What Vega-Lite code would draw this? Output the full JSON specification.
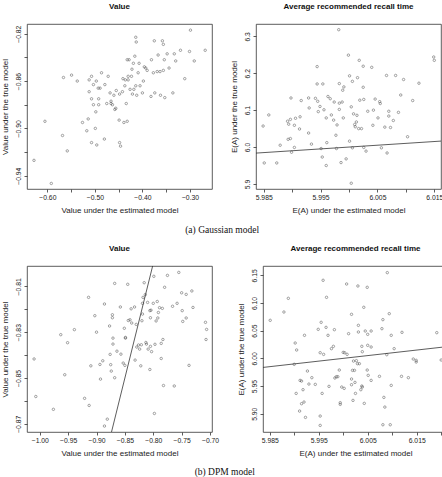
{
  "$schema": "https://vega.github.io/schema/vega-lite/v6.json",
  "padding": {"left": 1, "top": 2, "right": 0, "bottom": 0},
  "background": "white",
  "config": {
    "font": "Liberation Sans",
    "view": {"stroke": "#333", "strokeWidth": 0.8},
    "axis": {"grid": false, "domain": false, "tickColor": "#333", "tickSize": 3, "tickWidth": 0.8, "labelFontSize": 6.8, "titleFontSize": 8, "titleFontWeight": "normal", "labelColor": "#222", "titleColor": "#222", "labelOverlap": false, "labelFlush": false},
    "axisY": {"labelAngle": -90, "labelAlign": "center", "labelBaseline": "bottom", "labelPadding": 2.5, "titlePadding": 6},
    "axisX": {"labelPadding": 2.5, "titlePadding": 5},
    "title": {"fontSize": 8, "fontWeight": "bold", "offset": 13, "color": "#111"},
    "point": {"filled": false, "size": 6, "stroke": "#444", "strokeWidth": 0.7}
  },
  "datasets": {
    "g_value": [
      {"est": -0.628, "tru": -0.927}, {"est": -0.5916, "tru": -0.9465}, {"est": -0.605, "tru": -0.894}, {"est": -0.568, "tru": -0.906}, {"est": -0.558, "tru": -0.919},
      {"est": -0.566, "tru": -0.857}, {"est": -0.549, "tru": -0.855}, {"est": -0.537, "tru": -0.860}, {"est": -0.526, "tru": -0.895}, {"est": -0.517, "tru": -0.902},
      {"est": -0.514, "tru": -0.892}, {"est": -0.512, "tru": -0.869}, {"est": -0.512, "tru": -0.859}, {"est": -0.507, "tru": -0.856}, {"est": -0.507, "tru": -0.875},
      {"est": -0.503, "tru": -0.863}, {"est": -0.503, "tru": -0.880}, {"est": -0.507, "tru": -0.912}, {"est": -0.499, "tru": -0.900}, {"est": -0.498, "tru": -0.886},
      {"est": -0.497, "tru": -0.860}, {"est": -0.496, "tru": -0.914}, {"est": -0.493, "tru": -0.866}, {"est": -0.492, "tru": -0.875}, {"est": -0.492, "tru": -0.880},
      {"est": -0.489, "tru": -0.866}, {"est": -0.486, "tru": -0.853}, {"est": -0.480, "tru": -0.909}, {"est": -0.479, "tru": -0.863}, {"est": -0.475, "tru": -0.879},
      {"est": -0.472, "tru": -0.856}, {"est": -0.468, "tru": -0.870}, {"est": -0.466, "tru": -0.877}, {"est": -0.466, "tru": -0.879}, {"est": -0.463, "tru": -0.880},
      {"est": -0.460, "tru": -0.872}, {"est": -0.458, "tru": -0.884}, {"est": -0.456, "tru": -0.883}, {"est": -0.455, "tru": -0.868}, {"est": -0.449, "tru": -0.893},
      {"est": -0.448, "tru": -0.871}, {"est": -0.448, "tru": -0.912}, {"est": -0.446, "tru": -0.915}, {"est": -0.442, "tru": -0.869}, {"est": -0.441, "tru": -0.858},
      {"est": -0.439, "tru": -0.895}, {"est": -0.437, "tru": -0.864}, {"est": -0.436, "tru": -0.859}, {"est": -0.434, "tru": -0.879}, {"est": -0.432, "tru": -0.894},
      {"est": -0.432, "tru": -0.842}, {"est": -0.430, "tru": -0.856}, {"est": -0.430, "tru": -0.859}, {"est": -0.428, "tru": -0.842}, {"est": -0.426, "tru": -0.867},
      {"est": -0.423, "tru": -0.856}, {"est": -0.422, "tru": -0.850}, {"est": -0.421, "tru": -0.871}, {"est": -0.419, "tru": -0.845}, {"est": -0.418, "tru": -0.867},
      {"est": -0.416, "tru": -0.839}, {"est": -0.414, "tru": -0.823}, {"est": -0.413, "tru": -0.827}, {"est": -0.414, "tru": -0.864}, {"est": -0.412, "tru": -0.872},
      {"est": -0.409, "tru": -0.853}, {"est": -0.407, "tru": -0.845}, {"est": -0.405, "tru": -0.864}, {"est": -0.400, "tru": -0.870}, {"est": -0.398, "tru": -0.860},
      {"est": -0.396, "tru": -0.848}, {"est": -0.393, "tru": -0.849}, {"est": -0.390, "tru": -0.851}, {"est": -0.382, "tru": -0.873}, {"est": -0.381, "tru": -0.842},
      {"est": -0.377, "tru": -0.853}, {"est": -0.375, "tru": -0.826}, {"est": -0.374, "tru": -0.870}, {"est": -0.369, "tru": -0.852}, {"est": -0.367, "tru": -0.838},
      {"est": -0.363, "tru": -0.852}, {"est": -0.362, "tru": -0.872}, {"est": -0.358, "tru": -0.826}, {"est": -0.356, "tru": -0.829}, {"est": -0.356, "tru": -0.851},
      {"est": -0.354, "tru": -0.842}, {"est": -0.353, "tru": -0.874}, {"est": -0.348, "tru": -0.837}, {"est": -0.344, "tru": -0.849}, {"est": -0.336, "tru": -0.870},
      {"est": -0.333, "tru": -0.837}, {"est": -0.330, "tru": -0.843}, {"est": -0.320, "tru": -0.834}, {"est": -0.311, "tru": -0.858}, {"est": -0.301, "tru": -0.835},
      {"est": -0.299, "tru": -0.817}, {"est": -0.291, "tru": -0.843}, {"est": -0.268, "tru": -0.834}
    ],
    "g_recall": [
      {"est": 5.9849, "tru": 6.057}, {"est": 5.9851, "tru": 5.957}, {"est": 5.9859, "tru": 6.087}, {"est": 5.9873, "tru": 5.957}, {"est": 5.9879, "tru": 6.005},
      {"est": 5.9892, "tru": 6.070}, {"est": 5.9893, "tru": 6.021}, {"est": 5.9894, "tru": 6.062}, {"est": 5.9897, "tru": 6.075}, {"est": 5.9897, "tru": 6.023},
      {"est": 5.9898, "tru": 6.133}, {"est": 5.9899, "tru": 5.986}, {"est": 5.9904, "tru": 5.999}, {"est": 5.9904, "tru": 6.059}, {"est": 5.9906, "tru": 6.078},
      {"est": 5.9913, "tru": 6.049}, {"est": 5.9914, "tru": 6.082}, {"est": 5.9916, "tru": 6.126}, {"est": 5.9929, "tru": 6.038}, {"est": 5.9929, "tru": 6.133},
      {"est": 5.9930, "tru": 6.106}, {"est": 5.9934, "tru": 6.008}, {"est": 5.9941, "tru": 6.132}, {"est": 5.9944, "tru": 6.218}, {"est": 5.9944, "tru": 6.171},
      {"est": 5.9945, "tru": 6.124}, {"est": 5.9946, "tru": 6.096}, {"est": 5.9949, "tru": 6.110}, {"est": 5.9951, "tru": 5.996}, {"est": 5.9953, "tru": 5.973},
      {"est": 5.9954, "tru": 6.171}, {"est": 5.9956, "tru": 6.101}, {"est": 5.9960, "tru": 5.950}, {"est": 5.9960, "tru": 6.079}, {"est": 5.9961, "tru": 6.012},
      {"est": 5.9963, "tru": 6.137}, {"est": 5.9967, "tru": 6.131}, {"est": 5.9969, "tru": 6.087}, {"est": 5.9973, "tru": 6.073}, {"est": 5.9974, "tru": 6.122},
      {"est": 5.9977, "tru": 6.032}, {"est": 5.9978, "tru": 5.996}, {"est": 5.9979, "tru": 6.060}, {"est": 5.9982, "tru": 6.318}, {"est": 5.9983, "tru": 6.119},
      {"est": 5.9983, "tru": 6.102}, {"est": 5.9983, "tru": 6.172}, {"est": 5.9986, "tru": 5.958}, {"est": 5.9988, "tru": 6.122}, {"est": 5.9989, "tru": 6.154},
      {"est": 5.9991, "tru": 6.163}, {"est": 5.9990, "tru": 6.079}, {"est": 5.9995, "tru": 5.968}, {"est": 5.9999, "tru": 6.249}, {"est": 6.0001, "tru": 6.193},
      {"est": 6.0001, "tru": 6.016}, {"est": 6.0004, "tru": 5.902}, {"est": 6.0004, "tru": 6.109}, {"est": 6.0006, "tru": 5.998}, {"est": 6.0006, "tru": 6.178},
      {"est": 6.0008, "tru": 6.090}, {"est": 6.0010, "tru": 6.061}, {"est": 6.0011, "tru": 6.055}, {"est": 6.0013, "tru": 6.068}, {"est": 6.0014, "tru": 6.086},
      {"est": 6.0015, "tru": 6.188}, {"est": 6.0017, "tru": 6.050}, {"est": 6.0018, "tru": 6.235}, {"est": 6.0019, "tru": 6.127}, {"est": 6.0022, "tru": 6.050},
      {"est": 6.0025, "tru": 6.219}, {"est": 6.0025, "tru": 6.162}, {"est": 6.0026, "tru": 6.129}, {"est": 6.0026, "tru": 5.999}, {"est": 6.0030, "tru": 5.989},
      {"est": 6.0033, "tru": 6.097}, {"est": 6.0040, "tru": 6.216}, {"est": 6.0042, "tru": 6.059}, {"est": 6.0043, "tru": 6.100}, {"est": 6.0046, "tru": 6.130},
      {"est": 6.0051, "tru": 6.079}, {"est": 6.0054, "tru": 6.123}, {"est": 6.0055, "tru": 6.118}, {"est": 6.0057, "tru": 5.998}, {"est": 6.0063, "tru": 6.054},
      {"est": 6.0066, "tru": 6.194}, {"est": 6.0067, "tru": 5.984}, {"est": 6.0070, "tru": 6.097}, {"est": 6.0070, "tru": 6.084}, {"est": 6.0073, "tru": 6.053},
      {"est": 6.0078, "tru": 6.072}, {"est": 6.0082, "tru": 6.194}, {"est": 6.0087, "tru": 6.094}, {"est": 6.0091, "tru": 6.141}, {"est": 6.0096, "tru": 6.183},
      {"est": 6.0103, "tru": 6.028}, {"est": 6.0112, "tru": 6.126}, {"est": 6.0123, "tru": 6.173}, {"est": 6.0149, "tru": 6.244}, {"est": 6.0150, "tru": 6.235}
    ],
    "g_line": [{"est": 5.97, "tru": 5.97, "est2": 6.03, "tru2": 6.03}],
    "d_value": [
      {"est": -1.010, "tru": -0.8417}, {"est": -1.007, "tru": -0.8581}, {"est": -0.976, "tru": -0.8637}, {"est": -0.963, "tru": -0.8311}, {"est": -0.956, "tru": -0.8486},
      {"est": -0.951, "tru": -0.8346}, {"est": -0.939, "tru": -0.8289}, {"est": -0.921, "tru": -0.8589}, {"est": -0.914, "tru": -0.8148}, {"est": -0.913, "tru": -0.8620},
      {"est": -0.910, "tru": -0.8447}, {"est": -0.903, "tru": -0.8228}, {"est": -0.900, "tru": -0.8300}, {"est": -0.894, "tru": -0.8441}, {"est": -0.893, "tru": -0.8505},
      {"est": -0.889, "tru": -0.8425}, {"est": -0.886, "tru": -0.8177}, {"est": -0.886, "tru": -0.8710}, {"est": -0.881, "tru": -0.8680}, {"est": -0.877, "tru": -0.8273},
      {"est": -0.876, "tru": -0.8397}, {"est": -0.875, "tru": -0.8442}, {"est": -0.874, "tru": -0.8470}, {"est": -0.872, "tru": -0.8237}, {"est": -0.872, "tru": -0.8224},
      {"est": -0.871, "tru": -0.8326}, {"est": -0.871, "tru": -0.8352}, {"est": -0.868, "tru": -0.8087}, {"est": -0.868, "tru": -0.8499}, {"est": -0.864, "tru": -0.8383},
      {"est": -0.858, "tru": -0.8190}, {"est": -0.857, "tru": -0.8396}, {"est": -0.853, "tru": -0.8435}, {"est": -0.851, "tru": -0.8283}, {"est": -0.850, "tru": -0.8445},
      {"est": -0.849, "tru": -0.8323}, {"est": -0.849, "tru": -0.8326}, {"est": -0.845, "tru": -0.8091}, {"est": -0.844, "tru": -0.8249}, {"est": -0.841, "tru": -0.8246},
      {"est": -0.839, "tru": -0.8198}, {"est": -0.838, "tru": -0.8260}, {"est": -0.833, "tru": -0.8190}, {"est": -0.832, "tru": -0.8422}, {"est": -0.830, "tru": -0.8266},
      {"est": -0.829, "tru": -0.8365}, {"est": -0.826, "tru": -0.8356}, {"est": -0.824, "tru": -0.8374}, {"est": -0.822, "tru": -0.8447}, {"est": -0.821, "tru": -0.8355},
      {"est": -0.820, "tru": -0.8250}, {"est": -0.819, "tru": -0.8174}, {"est": -0.819, "tru": -0.8221}, {"est": -0.818, "tru": -0.8148}, {"est": -0.816, "tru": -0.8084},
      {"est": -0.814, "tru": -0.8136}, {"est": -0.813, "tru": -0.8345}, {"est": -0.812, "tru": -0.8352}, {"est": -0.810, "tru": -0.8170}, {"est": -0.809, "tru": -0.8374},
      {"est": -0.806, "tru": -0.8463}, {"est": -0.806, "tru": -0.8206}, {"est": -0.805, "tru": -0.8237}, {"est": -0.805, "tru": -0.8362}, {"est": -0.804, "tru": -0.8204},
      {"est": -0.803, "tru": -0.8385}, {"est": -0.800, "tru": -0.8174}, {"est": -0.799, "tru": -0.8056}, {"est": -0.798, "tru": -0.8655}, {"est": -0.797, "tru": -0.8353},
      {"est": -0.795, "tru": -0.8251}, {"est": -0.793, "tru": -0.8166}, {"est": -0.792, "tru": -0.8238}, {"est": -0.791, "tru": -0.8214}, {"est": -0.789, "tru": -0.8193},
      {"est": -0.786, "tru": -0.8415}, {"est": -0.786, "tru": -0.8349}, {"est": -0.784, "tru": -0.8196}, {"est": -0.783, "tru": -0.8332}, {"est": -0.782, "tru": -0.8533},
      {"est": -0.780, "tru": -0.8104}, {"est": -0.775, "tru": -0.8052}, {"est": -0.766, "tru": -0.8187}, {"est": -0.763, "tru": -0.8535}, {"est": -0.758, "tru": -0.8174},
      {"est": -0.755, "tru": -0.8039}, {"est": -0.750, "tru": -0.8128}, {"est": -0.749, "tru": -0.8206}, {"est": -0.748, "tru": -0.8253}, {"est": -0.742, "tru": -0.8238},
      {"est": -0.742, "tru": -0.8135}, {"est": -0.737, "tru": -0.8445}, {"est": -0.732, "tru": -0.8120}, {"est": -0.730, "tru": -0.8192}, {"est": -0.708, "tru": -0.8257},
      {"est": -0.706, "tru": -0.8288}, {"est": -0.707, "tru": -0.8332}
    ],
    "d_value_line": [{"est": -0.9, "tru": -0.9, "est2": -0.78, "tru2": -0.78}],
    "d_recall": [
      {"est": 5.9851, "tru": 6.0687}, {"est": 5.9879, "tru": 6.0837}, {"est": 5.9888, "tru": 6.1084}, {"est": 5.9900, "tru": 5.9892}, {"est": 5.9902, "tru": 6.0277},
      {"est": 5.9904, "tru": 5.9367}, {"est": 5.9905, "tru": 6.0151}, {"est": 5.9911, "tru": 5.9048}, {"est": 5.9912, "tru": 5.9602}, {"est": 5.9915, "tru": 5.9590},
      {"est": 5.9915, "tru": 5.9181}, {"est": 5.9918, "tru": 5.9434}, {"est": 5.9920, "tru": 5.9211}, {"est": 5.9921, "tru": 6.0416}, {"est": 5.9923, "tru": 5.8934},
      {"est": 5.9927, "tru": 5.9771}, {"est": 5.9930, "tru": 5.9536}, {"est": 5.9936, "tru": 5.9651}, {"est": 5.9943, "tru": 5.9530}, {"est": 5.9949, "tru": 6.0524},
      {"est": 5.9953, "tru": 6.0102}, {"est": 5.9953, "tru": 5.8789}, {"est": 5.9953, "tru": 5.8958}, {"est": 5.9955, "tru": 6.0651}, {"est": 5.9957, "tru": 5.9367},
      {"est": 5.9959, "tru": 6.1410}, {"est": 5.9960, "tru": 6.0072}, {"est": 5.9965, "tru": 6.0560}, {"est": 5.9966, "tru": 6.1102}, {"est": 5.9969, "tru": 6.0416},
      {"est": 5.9971, "tru": 5.9494}, {"est": 5.9976, "tru": 6.0175}, {"est": 5.9980, "tru": 6.0217}, {"est": 5.9982, "tru": 6.0518}, {"est": 5.9983, "tru": 5.9645},
      {"est": 5.9986, "tru": 5.9669}, {"est": 5.9989, "tru": 5.9669}, {"est": 5.9992, "tru": 5.9789}, {"est": 5.9994, "tru": 5.9199}, {"est": 5.9994, "tru": 5.9169},
      {"est": 5.9997, "tru": 5.9482}, {"est": 6.0000, "tru": 6.0108}, {"est": 6.0002, "tru": 5.9458}, {"est": 6.0003, "tru": 6.0102}, {"est": 6.0007, "tru": 6.1343},
      {"est": 6.0008, "tru": 6.0072}, {"est": 6.0011, "tru": 6.0446}, {"est": 6.0017, "tru": 6.0795}, {"est": 6.0017, "tru": 5.9627}, {"est": 6.0017, "tru": 5.9524},
      {"est": 6.0019, "tru": 5.9783}, {"est": 6.0020, "tru": 5.9241}, {"est": 6.0021, "tru": 5.9952}, {"est": 6.0023, "tru": 5.9783}, {"est": 6.0024, "tru": 5.9566},
      {"est": 6.0025, "tru": 5.9367}, {"est": 6.0027, "tru": 5.9958}, {"est": 6.0029, "tru": 5.9904}, {"est": 6.0030, "tru": 6.1307}, {"est": 6.0031, "tru": 6.0596},
      {"est": 6.0031, "tru": 6.0476}, {"est": 6.0033, "tru": 5.9904}, {"est": 6.0036, "tru": 5.9434}, {"est": 6.0038, "tru": 6.0217}, {"est": 6.0038, "tru": 5.9500},
      {"est": 6.0039, "tru": 6.0120}, {"est": 6.0039, "tru": 5.9482}, {"est": 6.0042, "tru": 6.0922}, {"est": 6.0043, "tru": 5.9187}, {"est": 6.0045, "tru": 6.0494},
      {"est": 6.0049, "tru": 5.9789}, {"est": 6.0049, "tru": 6.1283}, {"est": 6.0050, "tru": 6.0434}, {"est": 6.0050, "tru": 6.0235}, {"est": 6.0051, "tru": 5.9693},
      {"est": 6.0057, "tru": 6.0494}, {"est": 6.0057, "tru": 6.0205}, {"est": 6.0057, "tru": 5.9602}, {"est": 6.0074, "tru": 5.9675}, {"est": 6.0079, "tru": 6.0536},
      {"est": 6.0081, "tru": 6.0699}, {"est": 6.0081, "tru": 5.8801}, {"est": 6.0083, "tru": 5.9295}, {"est": 6.0085, "tru": 5.9120}, {"est": 6.0089, "tru": 6.0066},
      {"est": 6.0090, "tru": 6.1548}, {"est": 6.0094, "tru": 6.0807}, {"est": 6.0096, "tru": 5.8801}, {"est": 6.0098, "tru": 6.0416}, {"est": 6.0098, "tru": 5.9512},
      {"est": 6.0104, "tru": 6.0175}, {"est": 6.0120, "tru": 6.0470}, {"est": 6.0119, "tru": 5.9675}, {"est": 6.0133, "tru": 5.9651}, {"est": 6.0143, "tru": 5.9988},
      {"est": 6.0149, "tru": 5.9964}, {"est": 6.0149, "tru": 5.9934}, {"est": 6.0191, "tru": 6.0464}, {"est": 6.0200, "tru": 5.9970}
    ]
  },
  "spacing": 9,
  "vconcat": [
    {
      "title": {"text": "(a) Gaussian model", "orient": "bottom", "anchor": "middle", "font": "Liberation Serif", "fontSize": 9.5, "fontWeight": "normal", "offset": 10, "color": "#111"},
      "spacing": 17,
      "hconcat": [
        {
          "width": 185, "height": 165,
          "title": "Value",
          "data": {"name": "g_value"},
          "mark": {"type": "point", "clip": true},
          "encoding": {
            "x": {"field": "est", "type": "quantitative", "title": "Value under the estimated model",
                  "scale": {"domain": [-0.6427, -0.2537], "nice": false, "zero": false},
                  "axis": {"values": [-0.6, -0.55, -0.5, -0.45, -0.4, -0.35, -0.3], "format": ".2f", "labelOverlap": false, "labelExpr": "round(datum.value*100) % 10 == 0 ? datum.label : ''"}},
            "y": {"field": "tru", "type": "quantitative", "title": "Value under the true model",
                  "scale": {"domain": [-0.9512, -0.8118], "nice": false, "zero": false},
                  "axis": {"values": [-0.94, -0.92, -0.9, -0.88, -0.86, -0.84, -0.82], "format": ".2f", "labelOverlap": false, "labelExpr": "round(datum.value*100) % 4 != 0 ? datum.label : ''"}}
          }
        },
        {
          "width": 185, "height": 165,
          "title": "Average recommended recall time",
          "encoding": {
            "x": {"field": "est", "type": "quantitative", "title": "E(A) under the estimated model",
                  "scale": {"domain": [5.98365, 6.01618], "nice": false, "zero": false},
                  "axis": {"values": [5.985, 5.99, 5.995, 6.0, 6.005, 6.01, 6.015], "format": ".3f", "labelOverlap": false, "labelExpr": "round(datum.value*1000) % 10 == 5 ? datum.label : ''"}},
            "y": {"field": "tru", "type": "quantitative", "title": "E(A) under the true model",
                  "scale": {"domain": [5.8864, 6.3334], "nice": false, "zero": false},
                  "axis": {"values": [5.9, 6.0, 6.1, 6.2, 6.3], "format": ".1f", "labelOverlap": false, "labelExpr": "datum.label"}}
          },
          "layer": [
            {"data": {"name": "g_recall"}, "mark": {"type": "point", "clip": true}},
            {
              "data": {"name": "g_line"},
              "mark": {"type": "rule", "clip": true, "color": "#333", "strokeWidth": 0.8},
              "encoding": {"x2": {"field": "est2"}, "y2": {"field": "tru2"}}
            }
          ]
        }
      ]
    },
    {
      "title": {"text": "(b) DPM model", "orient": "bottom", "anchor": "middle", "font": "Liberation Serif", "fontSize": 9.5, "fontWeight": "normal", "offset": 9, "color": "#111"},
      "spacing": 17,
      "hconcat": [
        {
          "width": 185, "height": 166,
          "title": "Value",
          "encoding": {
            "x": {"field": "est", "type": "quantitative", "title": "Value under the estimated model",
                  "scale": {"domain": [-1.0225, -0.6965], "nice": false, "zero": false},
                  "axis": {"values": [-1.0, -0.95, -0.9, -0.85, -0.8, -0.75, -0.7], "format": ".2f", "labelOverlap": false, "labelExpr": "datum.label"}},
            "y": {"field": "tru", "type": "quantitative", "title": "Value under the true model",
                  "scale": {"domain": [-0.8736, -0.8011], "nice": false, "zero": false},
                  "axis": {"values": [-0.87, -0.86, -0.85, -0.84, -0.83, -0.82, -0.81], "format": ".2f", "labelOverlap": false, "labelExpr": "round(datum.value*100) % 2 != 0 ? datum.label : ''"}}
          },
          "layer": [
            {"data": {"name": "d_value"}, "mark": {"type": "point", "clip": true}},
            {
              "data": {"name": "d_value_line"},
              "mark": {"type": "rule", "clip": true, "color": "#333", "strokeWidth": 0.8},
              "encoding": {"x2": {"field": "est2"}, "y2": {"field": "tru2"}}
            }
          ]
        },
        {
          "width": 185, "height": 166,
          "title": "Average recommended recall time",
          "encoding": {
            "x": {"field": "est", "type": "quantitative", "title": "E(A) under the estimated model",
                  "scale": {"domain": [5.98363, 6.02139], "nice": false, "zero": false},
                  "axis": {"values": [5.985, 5.99, 5.995, 6.0, 6.005, 6.01, 6.015, 6.02], "format": ".3f", "labelOverlap": false, "labelExpr": "round(datum.value*1000) % 10 == 5 ? datum.label : ''"}},
            "y": {"field": "tru", "type": "quantitative", "title": "E(A) under the true model",
                  "scale": {"domain": [5.867, 6.1668], "nice": false, "zero": false},
                  "axis": {"values": [5.9, 5.95, 6.0, 6.05, 6.1, 6.15], "format": ".2f", "labelOverlap": false, "labelExpr": "datum.label"}}
          },
          "layer": [
            {"data": {"name": "d_recall"}, "mark": {"type": "point", "clip": true}},
            {
              "data": {"name": "g_line"},
              "mark": {"type": "rule", "clip": true, "color": "#333", "strokeWidth": 0.8},
              "encoding": {"x2": {"field": "est2"}, "y2": {"field": "tru2"}}
            }
          ]
        }
      ]
    }
  ]
}
